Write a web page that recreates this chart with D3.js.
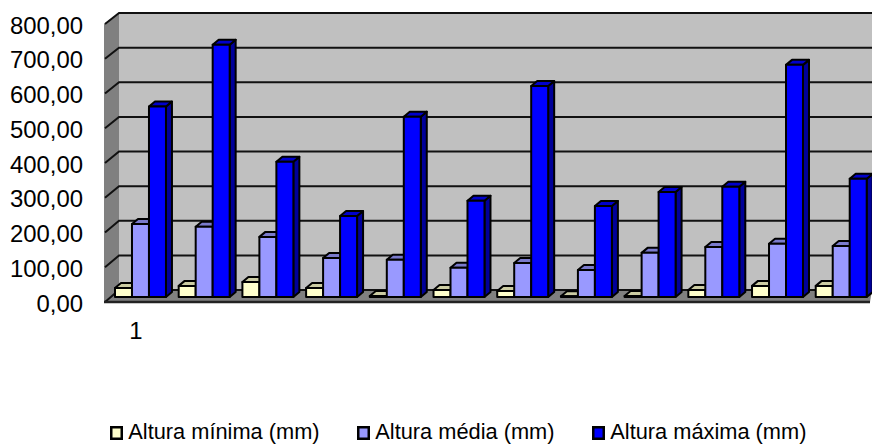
<!DOCTYPE html>
<html>
<head>
<meta charset="utf-8">
<script src="https://cdn.jsdelivr.net/npm/d3@7"></script>
<style>
    html, body { margin: 0; padding: 0; background: #fff; }
    svg { display: block; }
    text { font-family: "Liberation Sans", Arial, sans-serif; fill: #000; }
</style>
</head>
<body>
<div id="chart"></div>
<script>
const categories = ['1', '2', '3', '4', '5', '6', '7', '8', '9', '10', '11', '12'];
const seriesNames = ['Altura mínima (mm)', 'Altura média (mm)', 'Altura máxima (mm)'];
const alturaMinima = [26, 32, 43, 26, 3, 20, 17, 2, 3, 20, 32, 32];
const alturaMedia = [210, 202, 173, 112, 107, 84, 98, 78, 127, 144, 153, 147];
const alturaMaxima = [548, 726, 389, 233, 519, 277, 607, 262, 302, 317, 668, 340];
const yTicks = [0, 100, 200, 300, 400, 500, 600, 700, 800];

const frontColors = ['#ffffcc', '#9999ff', '#0000ff'];
const topColors = ['#cccca3', '#7a7acc', '#0000cc'];
const sideColors = ['#99997a', '#5c5c99', '#000099'];

const width = 872;
const height = 444;
const depthX = 6; // bar depth
const depthY = 5;

const svg = d3.select('#chart').append('svg')
    .attr('width', width)
    .attr('height', height);

// three planes of the fake 3D box: front edge, bars, back wall
const yFront = d3.scaleLinear().domain([0, 800]).range([302, 24]);
const yBar = d3.scaleLinear().domain([0, 800]).range([297, 19]);
const yBack = d3.scaleLinear().domain([0, 800]).range([290, 13]);

const x = d3.scaleBand().domain(categories).range([115, 866.7]).paddingInner(0.2);
const xSeries = d3.scaleBand().domain(d3.range(3)).range([0, x.bandwidth()]);

const wallLeft = 104;
const wallBack = 119;

// Walls and floor
svg.append('rect')
    .attr('x', wallBack).attr('y', yBack(800))
    .attr('width', width - wallBack).attr('height', yBack(0) - yBack(800))
    .attr('fill', '#c0c0c0');

svg.append('polygon')
    .attr('points', [[wallLeft, yFront(800)], [wallBack, yBack(800)], [wallBack, yBack(0)], [wallLeft, yFront(0)]].join(' '))
    .attr('fill', '#808080');

svg.append('polygon')
    .attr('points', [[wallLeft, yFront(0)], [wallBack, yBack(0)], [width, yBack(0)], [width - 2, yFront(0)]].join(' '))
    .attr('fill', '#808080');

// Gridlines, back wall + slanted part on the left wall
svg.selectAll('.grid')
    .data(yTicks)
    .enter().append('path')
    .attr('class', 'grid')
    .attr('d', d => `M${wallLeft + 1},${yFront(d)}L${wallBack},${yBack(d)}H${width}`)
    .attr('fill', 'none')
    .attr('stroke', '#111')
    .attr('stroke-width', 2);

svg.append('line')
    .attr('x1', wallLeft).attr('x2', width - 2)
    .attr('y1', yFront(0)).attr('y2', yFront(0))
    .attr('stroke', '#222')
    .attr('stroke-width', 2.4);

// Bars
const seriesValues = [alturaMinima, alturaMedia, alturaMaxima];

seriesValues.forEach((values, s) => {
    const bars = svg.append('g').selectAll('g')
        .data(values)
        .enter().append('g')
        .attr('stroke', '#000')
        .attr('stroke-width', 2)
        .attr('stroke-linejoin', 'round');

    const left = (d, i) => x(categories[i]) + xSeries(s);
    const right = (d, i) => left(d, i) + xSeries.bandwidth();

    bars.append('polygon')
        .attr('fill', sideColors[s])
        .attr('points', (d, i) => [
            [right(d, i), yBar(d)],
            [right(d, i) + depthX, yBar(d) - depthY],
            [right(d, i) + depthX, yBar(0) - depthY],
            [right(d, i), yBar(0)]
        ].join(' '));

    bars.append('polygon')
        .attr('fill', topColors[s])
        .attr('points', (d, i) => [
            [left(d, i), yBar(d)],
            [left(d, i) + depthX, yBar(d) - depthY],
            [right(d, i) + depthX, yBar(d) - depthY],
            [right(d, i), yBar(d)]
        ].join(' '));

    bars.append('rect')
        .attr('fill', frontColors[s])
        .attr('x', left)
        .attr('y', d => yBar(d))
        .attr('width', xSeries.bandwidth())
        .attr('height', d => yBar(0) - yBar(d));
});

// Y axis labels
const yAxis = d3.axisLeft(yFront)
    .tickValues(yTicks)
    .tickSize(0)
    .tickPadding(0)
    .tickFormat(d => d3.format('.2f')(d).replace('.', ','));

const yAxisG = svg.append('g')
    .attr('transform', 'translate(83,1.5)')
    .call(yAxis);
yAxisG.select('.domain').remove();
yAxisG.selectAll('text').style('font-size', '23.9px').style('font-family', '"Liberation Sans", Arial, sans-serif');

// Only the first category label is shown
svg.append('text')
    .attr('x', x(categories[0]) + x.bandwidth() / 2 - 4.5)
    .attr('y', 339)
    .attr('text-anchor', 'middle')
    .style('font-size', '23.9px')
    .text(categories[0]);

// Legend
const legendX = d3.scaleOrdinal().domain(seriesNames).range([111.25, 358.25, 593.25]);

const legend = svg.selectAll('.legend')
    .data(seriesNames)
    .enter().append('g')
    .attr('class', 'legend')
    .attr('transform', d => `translate(${legendX(d)},427.25)`);

legend.append('rect')
    .attr('width', 10.5)
    .attr('height', 11.5)
    .attr('fill', (d, i) => frontColors[i])
    .attr('stroke', '#000')
    .attr('stroke-width', 2.5);

legend.append('text')
    .attr('x', 17)
    .attr('y', 12)
    .style('font-size', '21.8px')
    .text(d => d);
</script>
</body>
</html>
